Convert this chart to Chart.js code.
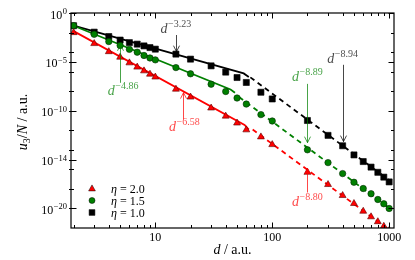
<!DOCTYPE html>
<html><head><meta charset="utf-8">
<script src="https://cdn.jsdelivr.net/npm/chart.js@4"></script>
<style>html,body{margin:0;padding:0;background:#fff}#wrap{width:415px;height:260px}</style>
</head><body><div id="wrap"><canvas id="c" width="415" height="260"></canvas></div>
<script>
// ---- data ----
const dValues = [2,3,4,5,6,7,8,9,10,15,20,30,40,50,60,80,100,200,300,400,500,600,700,800,900,1000];
const u3Eta20 = [9.8e-3,7.4e-4,1.1e-4,3.0e-5,7.9e-6,2.9e-6,1.2e-6,5.5e-7,2.8e-7,1.6e-8,2.5e-9,1.9e-10,2.8e-11,5.5e-12,1.1e-12,2.1e-13,3.4e-14,5.0e-17,2.8e-18,2.1e-19,3.2e-20,5.2e-21,1.4e-21,4.4e-22,1.5e-22,5.6e-23];
const u3Eta15 = [5.0e-2,6.6e-3,1.2e-3,4.7e-4,1.9e-4,9.8e-5,4.5e-5,2.5e-5,1.6e-5,2.6e-6,6.0e-7,5.2e-8,9.3e-9,2.0e-9,4.8e-10,4.0e-11,8.9e-12,1.0e-14,4.9e-16,3.7e-17,4.8e-18,1.1e-18,3.2e-19,8.3e-20,3.0e-20,1.0e-20];
const u3Eta10 = [5.0e-2,1.1e-2,3.9e-3,1.7e-3,9.3e-4,6.5e-4,4.3e-4,2.9e-4,2.0e-4,6.2e-5,1.9e-5,3.9e-6,8.9e-7,2.5e-7,7.8e-8,7.8e-9,1.6e-9,1.0e-11,3.0e-13,2.6e-14,3.0e-15,6.3e-16,1.7e-16,5.0e-17,1.6e-17,5.2e-18];

// fitted power laws (solid: short range, dashed: long range)
const fitSolidDEta20 = [2,58,63],  fitSolidUEta20 = [1.4e-2,3.5e-12,1.2e-12];
const fitDashDEta20  = [68,1000],  fitDashUEta20  = [1.2e-12,6.3e-23];
const fitSolidDEta15 = [2,44,48],  fitSolidUEta15 = [5.0e-2,1.5e-8,7.0e-9];
const fitDashDEta15  = [52,1000],  fitDashUEta15  = [2.5e-9,1.1e-20];
const fitSolidDEta10 = [2,57,63],  fitSolidUEta10 = [5.2e-2,6.6e-7,2.8e-7];
const fitDashDEta10  = [65,1000],  fitDashUEta10  = [2.6e-7,7.9e-18];

const seriesLabels = ['η = 2.0','η = 1.5','η = 1.0'];
const xTickValues = [10,100,1000];
const xTickLabels = ['10','100','1000'];
const yTickValues = [1,1e-5,1e-10,1e-15,1e-20];
const yTickExponents = ['0','−5','−10','−14','−20'];

// annotations: exponent text, colour, text anchor (d, u baseline), arrow d, tail u, tip u
const annExponents = ['−3.23','−4.86','−6.58','−8.89','−8.94','−8.80'];
const annColors    = ['0,0,0','0,128,0','255,0,0','0,128,0','0,0,0','255,0,0'];
const annTextD     = [15,5.3,17.7,200,400,200];
const annTextU     = [1e-2,4.3e-9,7.9e-13,1e-7,7.4e-6,1.7e-20];
const annArrowD    = [15,5,17.2,200,400,200];
const annTailU     = [5.6e-3,7.2e-8,1.3e-11,5.6e-8,5.0e-6,4.3e-19];
const annTipU      = [1.1e-4,5.6e-4,7.1e-9,5.4e-14,6.9e-14,1.3e-16];

// ---- build ----
const SERIF = '"Liberation Serif","Times New Roman",serif';
const pts = (xs, ys) => xs.map((x,i)=>({x, y: ys[i]}));
const COL = {r:'#ff0000', g:'#008000', k:'#000000'};

function lineDs(xs, ys, color, dashed){
  return {type:'line', data: pts(xs,ys), borderColor: color, borderWidth: 1.8,
          borderDash: dashed ? [5,4] : [], pointRadius: 0, fill:false, tension:0};
}

const datasets = [
  {label: seriesLabels[0], data: pts(dValues,u3Eta20), pointStyle:'triangle', pointRadius:4,
   backgroundColor: COL.r, borderColor:'#5a0000', borderWidth:0.6},
  {label: seriesLabels[1], data: pts(dValues,u3Eta15), pointStyle:'circle', pointRadius:3.2,
   backgroundColor: COL.g, borderColor:'#002a00', borderWidth:0.6},
  {label: seriesLabels[2], data: pts(dValues,u3Eta10), pointStyle:'rect', pointRadius:4.3,
   backgroundColor: COL.k, borderColor:'#000', borderWidth:0.6},
  lineDs(fitSolidDEta20, fitSolidUEta20, COL.r, false),
  lineDs(fitDashDEta20,  fitDashUEta20,  COL.r, true),
  lineDs(fitSolidDEta15, fitSolidUEta15, COL.g, false),
  lineDs(fitDashDEta15,  fitDashUEta15,  COL.g, true),
  lineDs(fitSolidDEta10, fitSolidUEta10, COL.k, false),
  lineDs(fitDashDEta10,  fitDashUEta10,  COL.k, true),
];

function drawRich(ctx, parts, x, y, align){
  let w = 0;
  parts.forEach(p => { ctx.font = p.font; p.w = ctx.measureText(p.text).width; w += p.w + (p.gap||0); });
  let cx = align === 'center' ? x - w/2 : align === 'right' ? x - w : x;
  ctx.textAlign = 'left'; ctx.textBaseline = 'alphabetic';
  parts.forEach(p => { ctx.font = p.font; ctx.fillText(p.text, cx, y + (p.dy||0)); cx += p.w + (p.gap||0); });
}

const decor = {
  id:'decor',
  afterDatasetsDraw(chart){
    const ctx = chart.ctx, a = chart.chartArea, xs = chart.scales.x, ys = chart.scales.y;
    ctx.save();
    // frame
    ctx.strokeStyle = '#000'; ctx.lineWidth = 1.2;
    ctx.strokeRect(a.left, a.top, a.right - a.left, a.bottom - a.top);
    // x ticks (inward, bottom & top)
    ctx.lineWidth = 1;
    const xMinor = [];
    [1,10,100].forEach(dec => { for (let k=2;k<=9;k++) xMinor.push(k*dec); });
    const tickX = (v, len) => {
      const px = Math.round(xs.getPixelForValue(v)) + 0.5;
      if (px < a.left || px > a.right) return;
      ctx.beginPath(); ctx.moveTo(px, a.bottom); ctx.lineTo(px, a.bottom - len);
      ctx.moveTo(px, a.top); ctx.lineTo(px, a.top + len); ctx.stroke();
    };
    xMinor.forEach(v => tickX(v, 3));
    xTickValues.forEach(v => tickX(v, 5.5));
    // y ticks
    const tickY = (v, len) => {
      const py = Math.round(ys.getPixelForValue(v)) + 0.5;
      ctx.beginPath(); ctx.moveTo(a.left - 2, py); ctx.lineTo(a.left + len, py);
      ctx.moveTo(a.right, py); ctx.lineTo(a.right - len, py); ctx.stroke();
    };
    [1e-2,1e-4,1e-6,1e-8,1e-12,1e-14,1e-16,1e-18].forEach(v => tickY(v, 3));
    yTickValues.forEach(v => tickY(v, 5.5));
    // tick labels
    ctx.fillStyle = '#000';
    ctx.font = '12px ' + SERIF; ctx.textAlign = 'center'; ctx.textBaseline = 'middle';
    xTickValues.forEach((v,i) => ctx.fillText(xTickLabels[i], xs.getPixelForValue(v), a.bottom + 10));
    yTickValues.forEach((v,i) => {
      const py = ys.getPixelForValue(v);
      drawRich(ctx, [{text:'10', font:'12px '+SERIF, dy:5.5, gap:0.5},
                     {text:yTickExponents[i], font:'8.5px '+SERIF, dy:1}], a.left - 4, py, 'right');
    });
    // axis titles
    drawRich(ctx, [{text:'d', font:'italic 14px '+SERIF},{text:' / a.u.', font:'14px '+SERIF}],
             (a.left + a.right)/2, a.bottom + 26, 'center');
    ctx.save();
    ctx.translate(27, 122); ctx.rotate(-Math.PI/2);
    drawRich(ctx, [{text:'u', font:'italic 14px '+SERIF},{text:'3', font:'10px '+SERIF, dy:3},
                   {text:'/', font:'14px '+SERIF},{text:'N', font:'italic 14px '+SERIF},
                   {text:' / a.u.', font:'14px '+SERIF}], 0, 0, 'center');
    ctx.restore();
    // legend
    const lx = 92, rows = [188.5, 200.5, 212.5];
    const styles = [['triangle',COL.r],['circle',COL.g],['rect',COL.k]];
    rows.forEach((ry,i) => {
      const [st, c] = styles[i];
      ctx.fillStyle = c; ctx.strokeStyle = '#000'; ctx.lineWidth = 0.5;
      ctx.beginPath();
      if (st === 'triangle') { ctx.moveTo(lx, ry-3.6); ctx.lineTo(lx+3.4, ry+2.4); ctx.lineTo(lx-3.4, ry+2.4); ctx.closePath(); }
      else if (st === 'circle') { ctx.arc(lx, ry, 3, 0, Math.PI*2); }
      else { ctx.rect(lx-2.9, ry-2.9, 5.8, 5.8); }
      ctx.fill(); ctx.stroke();
      ctx.fillStyle = '#000';
      const parts = seriesLabels[i].split(' ');
      drawRich(ctx, [{text:'η', font:'italic 12px '+SERIF},{text:' = '+parts[2], font:'12px '+SERIF}], 111, ry + 4, 'left');
    });
    // annotations
    annExponents.forEach((ex,i) => {
      const col = 'rgba(' + annColors[i] + ',0.72)';
      const ax = Math.round(xs.getPixelForValue(annArrowD[i])) + 0.5;
      const y0 = ys.getPixelForValue(annTailU[i]), y1 = ys.getPixelForValue(annTipU[i]);
      ctx.strokeStyle = col; ctx.lineWidth = 1;
      ctx.beginPath(); ctx.moveTo(ax, y0); ctx.lineTo(ax, y1); ctx.stroke();
      const dir = Math.sign(y1 - y0);
      ctx.beginPath(); ctx.moveTo(ax - 3, y1 - dir*6); ctx.lineTo(ax, y1); ctx.lineTo(ax + 3, y1 - dir*6); ctx.stroke();
      ctx.fillStyle = col;
      drawRich(ctx, [{text:'d', font:'italic 14px '+SERIF, gap:0.5},{text:ex, font:'10px '+SERIF, dy:-6}],
               xs.getPixelForValue(annTextD[i]), ys.getPixelForValue(annTextU[i]), 'center');
    });
    ctx.restore();
  }
};

new Chart(document.getElementById('c'), {
  type: 'scatter',
  data: { datasets },
  options: {
    responsive: false, devicePixelRatio: 1, animation: false,
    layout: { padding: { top: 13, right: 21, left: 0, bottom: 0 } },
    plugins: { legend: { display: false }, tooltip: { enabled: false } },
    scales: {
      x: { type:'logarithmic', min:1.9, max:1100, grid:{display:false}, border:{display:false},
           ticks:{display:false}, afterFit(s){ s.height = 32; } },
      y: { type:'logarithmic', min:1e-22, max:1, grid:{display:false}, border:{display:false},
           ticks:{display:false}, afterFit(s){ s.width = 71; } }
    }
  },
  plugins: [decor]
});
</script>
</body></html>
